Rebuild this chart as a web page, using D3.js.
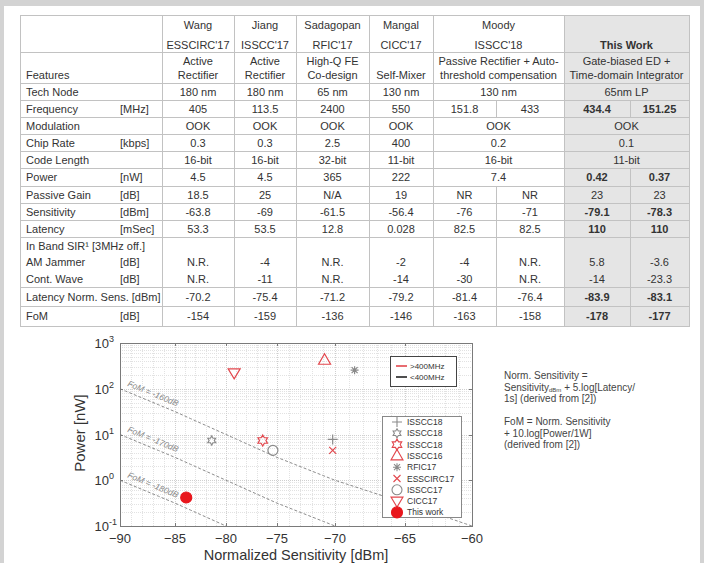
<!DOCTYPE html>
<html lang="en">
  <head>
    <meta charset="utf-8">
    <title>Wake-up receiver comparison</title>
    <script src="https://d3js.org/d3.v7.min.js"></script>
    <style>
      body { margin: 0; background: #fff; }
      svg { display: block; font-family: 'Liberation Sans', Arial, sans-serif; }
    </style>
  </head>
  <body>
    <svg></svg>

    <script>
    // ---------- table data ----------
    const authors  = ['Wang', 'Jiang', 'Sadagopan', 'Mangal', 'Moody', null, '', null]
    const venues   = ["ESSCIRC'17", "ISSCC'17", "RFIC'17", "CICC'17", "ISSCC'18", null, 'This Work', null]
    const features = [['Active', 'Rectifier'], ['Active', 'Rectifier'], ['High-Q FE', 'Co-design'], ['', 'Self-Mixer'],
                      ['Passive Rectifier + Auto-', 'threshold compensation'], null,
                      ['Gate-biased ED +', 'Time-domain Integrator'], null]

    const rowLabels = ['Tech Node', 'Frequency', 'Modulation', 'Chip Rate', 'Code Length', 'Power',
                       'Passive Gain', 'Sensitivity', 'Latency', 'In Band SIR\u00b9 [3MHz off.]',
                       'AM Jammer', 'Cont. Wave', 'Latency Norm. Sens. [dBm]', 'FoM']
    const rowUnits  = ['', '[MHz]', '', '[kbps]', '', '[nW]', '[dB]', '[dBm]', '[mSec]', '', '[dB]', '[dB]', '', '[dB]']

    // Wang, Jiang, Sadagopan, Mangal, Moody a, Moody b, This Work a, This Work b  (null = merged with left)
    const rowValues = [
      ['180 nm', '180 nm', '65 nm', '130 nm', '130 nm', null, '65nm LP', null],
      ['405', '113.5', '2400', '550', '151.8', '433', '434.4', '151.25'],
      ['OOK', 'OOK', 'OOK', 'OOK', 'OOK', null, 'OOK', null],
      ['0.3', '0.3', '2.5', '400', '0.2', null, '0.1', null],
      ['16-bit', '16-bit', '32-bit', '11-bit', '16-bit', null, '11-bit', null],
      ['4.5', '4.5', '365', '222', '7.4', null, '0.42', '0.37'],
      ['18.5', '25', 'N/A', '19', 'NR', 'NR', '23', '23'],
      ['-63.8', '-69', '-61.5', '-56.4', '-76', '-71', '-79.1', '-78.3'],
      ['53.3', '53.5', '12.8', '0.028', '82.5', '82.5', '110', '110'],
      ['', '', '', '', '', '', '', ''],
      ['N.R.', '-4', 'N.R.', '-2', '-4', 'N.R.', '5.8', '-3.6'],
      ['N.R.', '-11', 'N.R.', '-14', '-30', 'N.R.', '-14', '-23.3'],
      ['-70.2', '-75.4', '-71.2', '-79.2', '-81.4', '-76.4', '-83.9', '-83.1'],
      ['-154', '-159', '-136', '-146', '-163', '-158', '-178', '-177']
    ]
    const boldRows = ['Frequency', 'Power', 'Sensitivity', 'Latency', 'Latency Norm. Sens. [dBm]', 'FoM']

    // ---------- chart data ----------
    const refNames  = ['ISSCC18', 'ISSCC18', 'ISSCC18', 'ISSCC16', 'RFIC17', 'ESSCIRC17', 'ISSCC17', 'CICC17', 'This work']
    const refMarker = ['plus', 'hexagramSmall', 'hexagram', 'triangleUp', 'asterisk', 'times', 'circle', 'triangleDown', 'dot']
    const above400  = [false, false, true, true, false, true, false, true, true]
    const normSens  = [-70.2, -81.4, -76.4, -70.9, -68.6, -70.2, -75.4, -79.2, -83.9]
    const powerNW   = [7.8, 7.4, 7.4, 420, 255, 4.5, 4.5, 222, 0.42]

    const fomLines  = [-160, -170, -180]
    const xTicks    = [-90, -85, -80, -75, -70, -65, -60]
    const yTicks    = [0.1, 1, 10, 100, 1000]
    const bandNames = ['>400MHz', '<400MHz']
    const notes = [
      ['Norm. Sensitivity ='],
      ['Sensitivity', 'dBm', ' + 5.log[Latency/'],
      ['1s] (derived from [2])'],
      [''],
      ['FoM = Norm. Sensitivity'],
      ['+ 10.log[Power/1W]'],
      ['(derived from [2])']
    ]

    const red = '#e2474d'
    const grey = '#8a8a8a'
    const ink = '#333'

    const svg = d3.select('svg')
      .attr('width', 704)
      .attr('height', 563)

    // page frame
    svg.append('rect').attr('x', 0).attr('y', 0).attr('width', 704).attr('height', 6).attr('fill', '#d3d3d3')
    svg.append('rect').attr('x', 0).attr('y', 0).attr('width', 4).attr('height', 563).attr('fill', '#d3d3d3')
    svg.append('rect').attr('x', 700).attr('y', 0).attr('width', 4).attr('height', 563).attr('fill', '#d3d3d3')

    // ================= TABLE =================
    const colEdges = [20, 162, 234, 296, 369, 433, 496, 564, 630, 689]
    const tableTop = 15, headBottom = 52, tableBottom = 326
    const rowTops = [83, 100, 117, 134, 151, 168, 186, 203, 220, 237, 254, 270, 287, 306, 326]
    const lineColor = '#c2c2c2'

    const table = svg.append('g').attr('font-size', 11).attr('fill', ink)

    table.append('rect')
      .attr('x', colEdges[7]).attr('y', tableTop)
      .attr('width', colEdges[9] - colEdges[7]).attr('height', tableBottom - tableTop)
      .attr('fill', '#e5e5e5')

    // cell extent for value column k, merging with the next when it is null
    function cellSpan(values, k) {
      const x0 = colEdges[k + 1]
      const merged = (k === 4 || k === 6) && values[k + 1] === null
      const x1 = merged ? colEdges[k + 3] : colEdges[k + 2]
      return [x0, x1]
    }

    function hline(y) {
      table.append('line').attr('x1', colEdges[0]).attr('x2', colEdges[9])
        .attr('y1', y + 0.5).attr('y2', y + 0.5).attr('stroke', lineColor)
    }
    function vline(x, y0, y1) {
      table.append('line').attr('x1', x + 0.5).attr('x2', x + 0.5)
        .attr('y1', y0).attr('y2', y1).attr('stroke', lineColor)
    }

    // header rows
    authors.forEach((a, k) => {
      if (a === null) return
      const [x0, x1] = cellSpan(authors, k)
      table.append('text').attr('x', (x0 + x1) / 2).attr('y', 25)
        .attr('text-anchor', 'middle').attr('dominant-baseline', 'central').text(a)
    })
    venues.forEach((v, k) => {
      if (v === null) return
      const [x0, x1] = cellSpan(venues, k)
      table.append('text').attr('x', (x0 + x1) / 2).attr('y', 45)
        .attr('text-anchor', 'middle').attr('dominant-baseline', 'central')
        .attr('font-weight', k === 6 ? 'bold' : null).text(v)
    })
    table.append('text').attr('x', 26).attr('y', 75).attr('dominant-baseline', 'central').text('Features')
    features.forEach((f, k) => {
      if (f === null) return
      const [x0, x1] = cellSpan(features, k)
      f.forEach((line, i) => {
        table.append('text').attr('x', (x0 + x1) / 2).attr('y', i === 0 ? 61 : 75)
          .attr('text-anchor', 'middle').attr('dominant-baseline', 'central').text(line)
      })
    })

    // body rows
    rowValues.forEach((values, r) => {
      const top = rowTops[r], bottom = rowTops[r + 1]
      const cy = (top + bottom) / 2
      table.append('text').attr('x', 26).attr('y', cy).attr('dominant-baseline', 'central').text(rowLabels[r])
      table.append('text').attr('x', 120).attr('y', cy).attr('dominant-baseline', 'central').text(rowUnits[r])
      values.forEach((v, k) => {
        if (v === null) return
        const [x0, x1] = cellSpan(values, k)
        table.append('text').attr('x', (x0 + x1) / 2).attr('y', cy)
          .attr('text-anchor', 'middle').attr('dominant-baseline', 'central')
          .attr('font-weight', k >= 6 && boldRows.includes(rowLabels[r]) ? 'bold' : null)
          .text(v)
      })
      if (values[5] !== null) vline(colEdges[6], top, bottom)
      if (values[7] !== null) vline(colEdges[8], top, bottom)
      if (!['AM Jammer', 'Cont. Wave'].includes(rowLabels[r])) hline(top)
    })
    hline(tableTop)
    hline(headBottom)
    hline(tableBottom)
    ;[0, 1, 2, 3, 4, 5, 7, 9].forEach(i => vline(colEdges[i], tableTop, tableBottom + 1))

    // ================= CHART =================
    const plot = { left: 120, right: 472, top: 343, bottom: 526 }

    // the source picture is slightly stretched, so x follows the printed tick positions
    const x = d3.scaleLinear()
      .domain(xTicks)
      .range([120, 175, 226, 277, 335, 405, 472])
    const y = d3.scaleLog()
      .domain([0.1, 1000])
      .range([plot.bottom, plot.top])

    const chart = svg.append('g')

    // minor grid
    const xMinor = d3.range(-90, -59, 1)
    const yMinor = []
    yTicks.slice(0, -1).forEach(t => d3.range(2, 10).forEach(m => yMinor.push(t * m)))
    chart.append('g').selectAll('line').data(xMinor).join('line')
      .attr('x1', d => Math.round(x(d)) + 0.5).attr('x2', d => Math.round(x(d)) + 0.5)
      .attr('y1', plot.top).attr('y2', plot.bottom)
      .attr('stroke', '#e2e2e2').attr('stroke-dasharray', '1,1')
    chart.append('g').selectAll('line').data(yMinor).join('line')
      .attr('y1', d => Math.round(y(d)) + 0.5).attr('y2', d => Math.round(y(d)) + 0.5)
      .attr('x1', plot.left).attr('x2', plot.right)
      .attr('stroke', '#e2e2e2').attr('stroke-dasharray', '1,1')
    // major grid
    chart.append('g').selectAll('line').data(xTicks).join('line')
      .attr('x1', d => Math.round(x(d)) + 0.5).attr('x2', d => Math.round(x(d)) + 0.5)
      .attr('y1', plot.top).attr('y2', plot.bottom)
      .attr('stroke', '#cfcfcf').attr('stroke-dasharray', '1,1')
    chart.append('g').selectAll('line').data(yTicks).join('line')
      .attr('y1', d => Math.round(y(d)) + 0.5).attr('y2', d => Math.round(y(d)) + 0.5)
      .attr('x1', plot.left).attr('x2', plot.right)
      .attr('stroke', '#cfcfcf').attr('stroke-dasharray', '1,1')

    // FoM iso-lines: FoM = NS + 10 log10(P[nW]) - 90
    const powerAt = (fom, ns) => Math.pow(10, (fom - ns + 90) / 10)
    const fomLine = d3.line().x(d => x(d[0])).y(d => y(d[1]))
    fomLines.forEach(fom => {
      const nsEnd = Math.min(-60, fom + 90 + 10)      // where P reaches 0.1 nW
      const pts = d3.range(-90, nsEnd + 0.01, 0.5).map(ns => [ns, powerAt(fom, ns)])
      chart.append('path').attr('d', fomLine(pts))
        .attr('fill', 'none').attr('stroke', '#8c8c8c')
        .attr('stroke-width', 1).attr('stroke-dasharray', '3,2')
      const p0 = [x(-90), y(powerAt(fom, -90))]
      const p1 = [x(-85), y(powerAt(fom, -85))]
      const ang = Math.atan2(p1[1] - p0[1], p1[0] - p0[0]) * 180 / Math.PI
      chart.append('text')
        .attr('transform', `translate(${p0[0] + 7},${p0[1] - 3}) rotate(${ang})`)
        .attr('font-size', 8.5).attr('fill', '#888').attr('font-style', 'italic')
        .text(`FoM = ${fom}dB`)
    })

    // small ticks on the frame
    const tickG = chart.append('g').attr('stroke', '#7a7a7a')
    xTicks.forEach(t => {
      const px = Math.round(x(t)) + 0.5
      tickG.append('line').attr('x1', px).attr('x2', px).attr('y1', plot.bottom).attr('y2', plot.bottom - 3)
      tickG.append('line').attr('x1', px).attr('x2', px).attr('y1', plot.top).attr('y2', plot.top + 3)
    })
    yTicks.forEach(t => {
      const py = Math.round(y(t)) + 0.5
      tickG.append('line').attr('y1', py).attr('y2', py).attr('x1', plot.left).attr('x2', plot.left + 3)
      tickG.append('line').attr('y1', py).attr('y2', py).attr('x1', plot.right).attr('x2', plot.right - 3)
    })

    // marker shapes
    function markerPath(type) {
      const p = d3.path()
      const star = r => {
        for (let i = 0; i < 12; i++) {
          const a = -Math.PI / 2 + i * Math.PI / 6
          const rr = i % 2 === 0 ? r : r * 0.58
          if (i === 0) p.moveTo(rr * Math.cos(a), rr * Math.sin(a))
          else p.lineTo(rr * Math.cos(a), rr * Math.sin(a))
        }
        p.closePath()
      }
      if (type === 'plus') { p.moveTo(-5, 0); p.lineTo(5, 0); p.moveTo(0, -5); p.lineTo(0, 5) }
      else if (type === 'times') { p.moveTo(-3.5, -3.5); p.lineTo(3.5, 3.5); p.moveTo(-3.5, 3.5); p.lineTo(3.5, -3.5) }
      else if (type === 'asterisk') {
        p.moveTo(-4, 0); p.lineTo(4, 0); p.moveTo(0, -4); p.lineTo(0, 4)
        p.moveTo(-3, -3); p.lineTo(3, 3); p.moveTo(-3, 3); p.lineTo(3, -3)
      }
      else if (type === 'triangleUp') { p.moveTo(0, -6.5); p.lineTo(6, 4); p.lineTo(-6, 4); p.closePath() }
      else if (type === 'triangleDown') { p.moveTo(0, 6); p.lineTo(6, -4); p.lineTo(-6, -4); p.closePath() }
      else if (type === 'circle') p.arc(0, 0, 5, 0, 2 * Math.PI)
      else if (type === 'dot') p.arc(0, 0, 5.5, 0, 2 * Math.PI)
      else if (type === 'hexagram') star(5.5)
      else if (type === 'hexagramSmall') star(4.5)
      return p.toString()
    }
    const markerColor = i => above400[i] ? red : grey

    chart.append('g').selectAll('path').data(refNames).join('path')
      .attr('transform', (d, i) => `translate(${x(normSens[i])},${y(powerNW[i])})`)
      .attr('d', (d, i) => markerPath(refMarker[i]))
      .attr('fill', (d, i) => refMarker[i] === 'dot' ? '#e8161c' : 'none')
      .attr('stroke', (d, i) => refMarker[i] === 'dot' ? '#e8161c' : markerColor(i))
      .attr('stroke-width', 1.2)

    // plot frame
    chart.append('rect')
      .attr('x', plot.left + 0.5).attr('y', plot.top + 0.5)
      .attr('width', plot.right - plot.left).attr('height', plot.bottom - plot.top)
      .attr('fill', 'none').attr('stroke', '#7a7a7a')

    // x axis labels
    chart.append('g').selectAll('text').data(xTicks).join('text')
      .attr('x', d => x(d)).attr('y', 543)
      .attr('text-anchor', 'middle').attr('font-size', 13).attr('fill', ink)
      .text(d => d3.format('d')(d))

    // y axis labels, 10^n
    const yLab = chart.append('g').selectAll('text').data(yTicks).join('text')
      .attr('x', 109).attr('y', d => y(d) + 5)
      .attr('text-anchor', 'end').attr('font-size', 13).attr('fill', ink)
    yLab.text('10')
    yLab.append('tspan').attr('x', 109).attr('dy', -6).attr('text-anchor', 'start')
      .attr('font-size', 9).text(d => Math.round(Math.log10(d)))

    chart.append('text')
      .attr('transform', 'translate(85,433) rotate(-90)')
      .attr('text-anchor', 'middle').attr('font-size', 15).attr('fill', ink)
      .text('Power [nW]')
    chart.append('text')
      .attr('x', 296).attr('y', 560)
      .attr('text-anchor', 'middle').attr('font-size', 14.5).attr('fill', ink)
      .text('Normalized Sensitivity [dBm]')

    // frequency legend
    const leg1 = chart.append('g')
    leg1.append('rect').attr('x', 390.5).attr('y', 356.5).attr('width', 66).attr('height', 30)
      .attr('fill', '#fff').attr('stroke', '#444')
    bandNames.forEach((b, i) => {
      leg1.append('line').attr('x1', 396).attr('x2', 407)
        .attr('y1', 366 + i * 11).attr('y2', 366 + i * 11)
        .attr('stroke', i === 0 ? red : '#222').attr('stroke-width', 1.6)
      leg1.append('text').attr('x', 410).attr('y', 366 + i * 11)
        .attr('dominant-baseline', 'central').attr('font-size', 8).attr('fill', ink).text(b)
    })

    // marker legend
    const leg2 = chart.append('g')
    leg2.append('rect').attr('x', 382.5).attr('y', 416.5).attr('width', 79).attr('height', 101)
      .attr('fill', '#fff').attr('stroke', '#888')
    refNames.forEach((n, i) => {
      const ly = 422 + i * 11.3
      leg2.append('path').attr('transform', `translate(397,${ly})`)
        .attr('d', markerPath(refMarker[i]))
        .attr('fill', refMarker[i] === 'dot' ? '#e8161c' : 'none')
        .attr('stroke', refMarker[i] === 'dot' ? '#e8161c' : markerColor(i))
        .attr('stroke-width', 1.1)
      leg2.append('text').attr('x', 407).attr('y', ly)
        .attr('dominant-baseline', 'central').attr('font-size', 8.5).attr('fill', ink).text(n)
    })

    // notes on the right
    const noteText = svg.append('g').attr('font-size', 10).attr('fill', '#444')
    notes.forEach((parts, i) => {
      const t = noteText.append('text').attr('x', 504).attr('y', 379 + i * 11.5)
      if (parts.length === 3) {
        t.append('tspan').text(parts[0])
        t.append('tspan').attr('font-size', 6).attr('dy', 1.5).text(parts[1])
        t.append('tspan').attr('dy', -1.5).text(parts[2])
      } else {
        t.text(parts[0])
      }
    })
  </script>
  </body>
</html>
